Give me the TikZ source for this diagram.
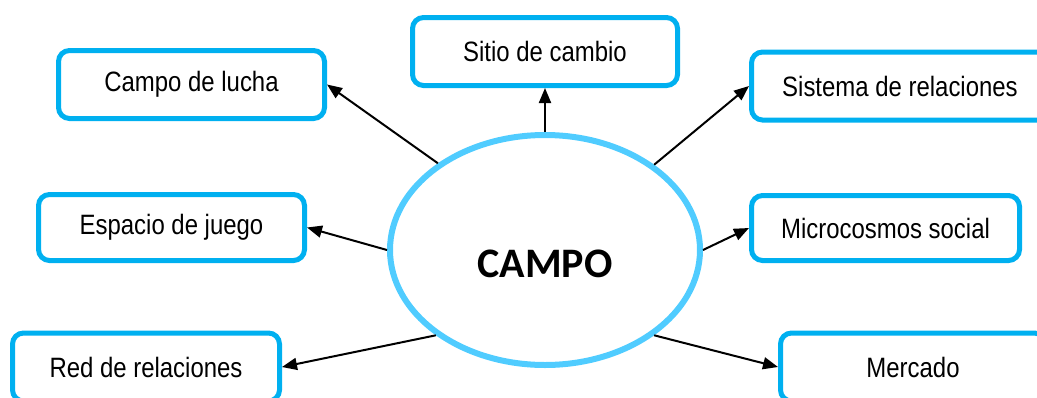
\documentclass[tikz,border=0pt]{standalone}
\usepackage{fontspec}
\usetikzlibrary{shapes.geometric,arrows.meta}
\newfontfamily\boxfont[FakeStretch=0.855]{Liberation Sans}
\newfontfamily\campofont{Carlito}
\definecolor{boxblue}{RGB}{0,176,240}
\definecolor{ellblue}{RGB}{80,204,255}
\begin{document}
\begin{tikzpicture}[x=1pt,y=-1pt,
  cbox/.style={draw=boxblue,line width=5pt,rounded corners=11pt,fill=white,
    minimum height=68pt,inner sep=0pt,font=\boxfont\fontsize{28}{32}\selectfont},
  conn/.style={line width=2pt,-{Triangle[length=15pt,width=12pt]}}]
\useasboundingbox (0,0) rectangle (1037,397);
\node[draw=ellblue,line width=6pt,ellipse,minimum width=310pt,minimum height=230pt,inner sep=0pt] (campo) at (545,250) {};
\node[font=\campofont\bfseries\fontsize{42}{48}\selectfont,inner sep=0pt] (campolabel) at (545,264) {CAMPO};
\node[cbox,minimum width=266pt] (lucha) at (191.5,84.5) {Campo de lucha};
\node[cbox,minimum width=265pt] (sitio) at (545,51.5) {Sitio de cambio};
\node[cbox,minimum width=297pt] (sistema) at (900,86) {Sistema de relaciones};
\node[cbox,minimum width=266pt,minimum height=66pt] (espacio) at (171.5,227.5) {Espacio de juego};
\node[cbox,minimum width=268pt,minimum height=65pt] (micro) at (885.5,228) {Microcosmos social};
\node[cbox,minimum width=267pt] (red) at (146,367) {Red de relaciones};
\node[cbox,minimum width=265pt] (mercado) at (913,367) {Mercado};
\draw[conn] (campo.141.7) -- (lucha.east);
\draw[conn] (campo.north) -- (sitio.south);
\draw[conn] (campo.38.3) -- (sistema.west);
\draw[conn] (campo.west) -- (espacio.east);
\draw[conn] (campo.east) -- (micro.west);
\draw[conn] (campo.218) -- (red.east);
\draw[conn] (campo.322) -- (mercado.west);
\end{tikzpicture}
\end{document}
